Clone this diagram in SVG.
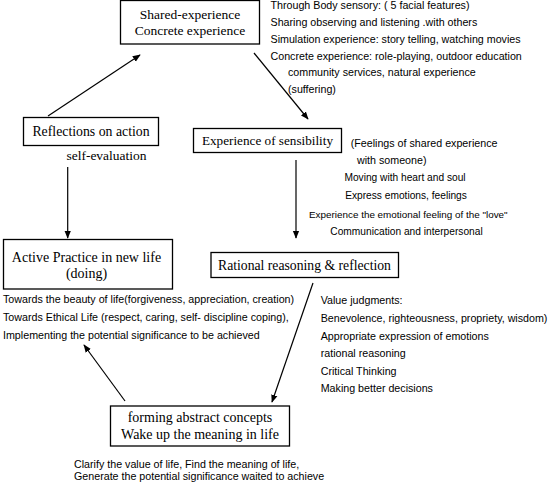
<svg xmlns="http://www.w3.org/2000/svg" width="548" height="483" viewBox="0 0 548 483">
<style>
.box{fill:#fff;stroke:#000;stroke-width:1.3}
.bt{font-family:"Liberation Serif","Times New Roman",serif;font-size:13.5px;fill:#000;text-anchor:middle}
.st{font-family:"Liberation Sans",Arial,sans-serif;font-size:10.7px;fill:#000}
.m{text-anchor:middle;font-size:10.2px}
.c{stroke:#000;stroke-width:1.2;fill:none;marker-end:url(#ah)}
</style>
<defs>
<marker id="ah" viewBox="0 0 10 10" refX="9" refY="5" markerWidth="8" markerHeight="8" markerUnits="userSpaceOnUse" orient="auto">
<path d="M0,1 L10,5 L0,9 Z" fill="#000"/>
</marker>
</defs>
<rect width="548" height="483" fill="#fff"/>
<g id="connectors">
<line class="c" x1="48" y1="116" x2="140" y2="55"/>
<line class="c" x1="254" y1="53" x2="308" y2="119"/>
<line class="c" x1="67.7" y1="167" x2="67.7" y2="238"/>
<line class="c" x1="296" y1="160" x2="296" y2="238"/>
<line class="c" x1="313" y1="283" x2="272" y2="402"/>
<line class="c" x1="125" y1="401" x2="84" y2="345"/>
</g>
<g id="shared">
<rect class="box" x="120.5" y="0.5" width="139" height="43.5"/>
<text class="bt" x="190" y="19">Shared-experience</text>
<text class="bt" x="190" y="35">Concrete experience</text>
</g>
<g id="shared-notes" class="st">
<text x="270.5" y="9">Through Body sensory: ( 5 facial features)</text>
<text x="270.5" y="25.5">Sharing observing and listening .with others</text>
<text x="270.5" y="42.5">Simulation experience: story telling, watching movies</text>
<text x="270.5" y="59.5">Concrete experience: role-playing, outdoor education</text>
<text x="288" y="76">community services, natural experience</text>
<text x="288" y="93">(suffering)</text>
</g>
<g id="reflections">
<rect class="box" x="23.5" y="117.5" width="135" height="28"/>
<text class="bt" x="91" y="136" style="font-size:13.8px">Reflections on action</text>
<text class="bt" x="106.5" y="160">self-evaluation</text>
</g>
<g id="sensibility">
<rect class="box" x="193.5" y="128.5" width="148" height="24"/>
<text class="bt" x="267.5" y="144.5" style="font-size:13.2px">Experience of sensibility</text>
</g>
<g id="sensibility-notes" class="st">
<text x="350.7" y="147">(Feelings of shared experience</text>
<text x="357" y="164">with someone)</text>
<text class="m" x="405" y="181">Moving with heart and soul</text>
<text class="m" x="406" y="199">Express emotions, feelings</text>
<text x="309" y="217.5" style="font-size:9.9px">Experience the emotional feeling of the "love"</text>
<text class="m" x="406.5" y="235">Communication and interpersonal</text>
</g>
<g id="active">
<rect class="box" x="3.5" y="239.5" width="169" height="49.5"/>
<text class="bt" x="86.5" y="262" style="font-size:14px">Active Practice in new life</text>
<text class="bt" x="86.5" y="278" style="font-size:14px">(doing)</text>
</g>
<g id="active-notes" class="st">
<text x="3" y="303">Towards the beauty of life(forgiveness, appreciation, creation)</text>
<text x="3" y="321">Towards Ethical Life (respect, caring, self- discipline coping),</text>
<text x="3" y="338.5">Implementing the potential significance to be achieved</text>
</g>
<g id="rational">
<rect class="box" x="211" y="252.5" width="187.5" height="25"/>
<text class="bt" x="304.5" y="270" style="font-size:13.7px">Rational reasoning &amp; reflection</text>
</g>
<g id="rational-notes" class="st">
<text x="320.7" y="304">Value judgments:</text>
<text x="320.7" y="322">Benevolence, righteousness, propriety, wisdom)</text>
<text x="320.7" y="339.5">Appropriate expression of emotions</text>
<text x="320.7" y="357">rational reasoning</text>
<text x="320.7" y="374.5">Critical Thinking</text>
<text x="320.7" y="392">Making better decisions</text>
</g>
<g id="forming">
<rect class="box" x="110.5" y="406" width="179" height="40"/>
<text class="bt" x="200" y="421.5" style="font-size:14px">forming abstract concepts</text>
<text class="bt" x="200" y="438.5" style="font-size:14px">Wake up the meaning in life</text>
</g>
<g id="forming-notes" class="st">
<text x="74" y="468">Clarify the value of life, Find the meaning of life,</text>
<text x="74" y="480">Generate the potential significance waited to achieve</text>
</g>
</svg>
